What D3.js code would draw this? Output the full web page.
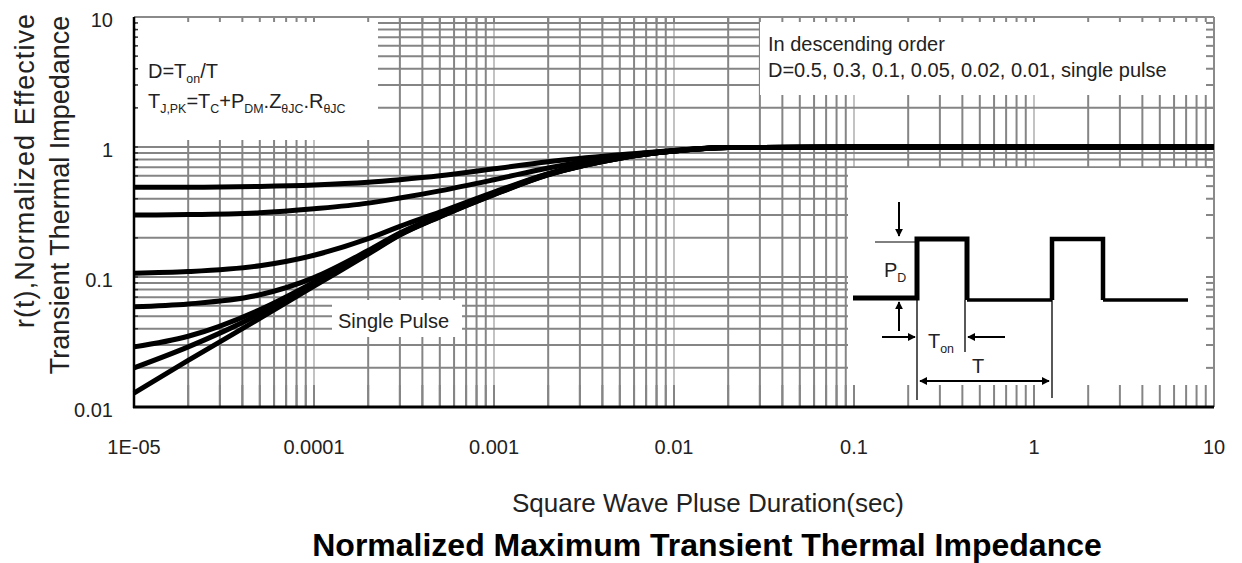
<!DOCTYPE html>
<html>
<head>
<meta charset="utf-8">
<script src="https://cdn.jsdelivr.net/npm/d3@7"></script>
<style>
  body { margin: 0; background: #fff; }
  text { font-family: "Liberation Sans", Arial, sans-serif; fill: #222; }
</style>
</head>
<body>
<script>
// data
const pulseTimes = [1e-5, 2e-5, 5e-5, 1e-4, 2e-4, 3e-4, 5e-4, 1e-3, 2e-3, 5e-3, 1e-2, 2e-2, 1e-1, 1, 10]
const dutyLabels = ["0.5", "0.3", "0.1", "0.05", "0.02", "0.01", "single"]
const r_d05 = [0.49, 0.49, 0.497, 0.51, 0.535, 0.56, 0.60, 0.68, 0.77, 0.87, 0.94, 0.99, 1, 1, 1]
const r_d03 = [0.30, 0.302, 0.312, 0.335, 0.37, 0.405, 0.46, 0.56, 0.69, 0.85, 0.94, 0.99, 1, 1, 1]
const r_d01 = [0.107, 0.11, 0.122, 0.147, 0.197, 0.245, 0.315, 0.45, 0.625, 0.83, 0.93, 0.99, 1, 1, 1]
const r_d005 = [0.059, 0.062, 0.073, 0.099, 0.16, 0.218, 0.298, 0.44, 0.62, 0.825, 0.93, 0.99, 1, 1, 1]
const r_d002 = [0.029, 0.035, 0.056, 0.091, 0.155, 0.214, 0.294, 0.435, 0.615, 0.82, 0.93, 0.99, 1, 1, 1]
const r_d001 = [0.020, 0.029, 0.052, 0.088, 0.152, 0.212, 0.292, 0.432, 0.612, 0.82, 0.93, 0.99, 1, 1, 1]
const r_single = [0.0128, 0.0228, 0.048, 0.085, 0.15, 0.21, 0.29, 0.43, 0.61, 0.82, 0.93, 0.99, 1, 1, 1]
const allSeries = [r_d05, r_d03, r_d01, r_d005, r_d002, r_d001, r_single]

const xTickValues = [1e-5, 1e-4, 1e-3, 1e-2, 1e-1, 1, 10]
const xTickLabels = ["1E-05", "0.0001", "0.001", "0.01", "0.1", "1", "10"]
const yTickValues = [0.01, 0.1, 1, 10]
const yTickLabels = ["0.01", "0.1", "1", "10"]

const width = 1242
const height = 563

const svg = d3.select("body")
    .append("svg")
    .attr("width", width)
    .attr("height", height)

svg.append("rect").attr("width", width).attr("height", height).attr("fill", "#fff")

const x = d3.scaleLog().domain([1e-5, 10]).range([134, 1214])
const y = d3.scaleLog().domain([0.01, 10]).range([407, 17])

const xGrid = x.ticks()
const yGrid = y.ticks()
const isDecade = v => Math.abs(Math.log10(v) - Math.round(Math.log10(v))) < 1e-6

// grid
const grid = svg.append("g")
grid.selectAll(".vg")
    .data(xGrid)
    .join("line")
    .attr("x1", d => x(d)).attr("x2", d => x(d))
    .attr("y1", y(10)).attr("y2", y(0.01))
    .attr("stroke", d => isDecade(d) ? "#9a9a9a" : "#858585")
    .attr("stroke-width", d => isDecade(d) ? 1.2 : 2)

grid.selectAll(".hg")
    .data(yGrid)
    .join("line")
    .attr("y1", d => y(d)).attr("y2", d => y(d))
    .attr("x1", x(1e-5)).attr("x2", x(10))
    .attr("stroke", "#858585")
    .attr("stroke-width", 2)

// white boxes that hide the grid (annotation areas)
const boxes = [
    { x0: 136, y0: 18, x1: 378, y1: 140 },
    { x0: 760, y0: 18, x1: 1213, y1: 95 },
    { x0: 848, y0: 168, x1: 1213, y1: 406 },
    { x0: 332, y0: 300, x1: 462, y1: 337 }
]
svg.append("g")
    .selectAll("rect")
    .data(boxes)
    .join("rect")
    .attr("x", d => d.x0).attr("y", d => d.y0)
    .attr("width", d => d.x1 - d.x0).attr("height", d => d.y1 - d.y0)
    .attr("fill", "#fff")

// edge ticks
const edge = svg.append("g").attr("stroke", "#858585").attr("stroke-width", 2)
edge.selectAll(".tt").data(xGrid).join("line")
    .attr("x1", d => x(d)).attr("x2", d => x(d))
    .attr("y1", y(10)).attr("y2", y(10) + 5)
edge.selectAll(".bt").data(xGrid).join("line")
    .attr("x1", d => x(d)).attr("x2", d => x(d))
    .attr("y1", y(0.01)).attr("y2", y(0.01) - 22)
edge.selectAll(".rt").data(yGrid).join("line")
    .attr("y1", d => y(d)).attr("y2", d => y(d))
    .attr("x1", x(10)).attr("x2", x(10) - 8)
svg.append("g").selectAll("line").data(yGrid).join("line")
    .attr("y1", d => y(d)).attr("y2", d => y(d))
    .attr("x1", x(1e-5)).attr("x2", x(1e-5) + 4)
    .attr("stroke", "#333").attr("stroke-width", 1.5)

// frame
svg.append("line").attr("x1", x(1e-5)).attr("x2", x(10)).attr("y1", y(10)).attr("y2", y(10))
    .attr("stroke", "#8a8a8a").attr("stroke-width", 2)
svg.append("line").attr("x1", x(10)).attr("x2", x(10)).attr("y1", y(10)).attr("y2", y(0.01))
    .attr("stroke", "#8a8a8a").attr("stroke-width", 2)
svg.append("line").attr("x1", x(1e-5)).attr("x2", x(1e-5)).attr("y1", y(10)).attr("y2", y(0.01) + 1)
    .attr("stroke", "#000").attr("stroke-width", 2.5)
svg.append("line").attr("x1", x(1e-5) - 1).attr("x2", x(10)).attr("y1", y(0.01)).attr("y2", y(0.01))
    .attr("stroke", "#000").attr("stroke-width", 3)

// curves
const line = d3.line()
    .x((d, i) => x(pulseTimes[i]))
    .y(d => y(d))
    .curve(d3.curveMonotoneX)

svg.append("g")
    .selectAll("path")
    .data(allSeries)
    .join("path")
    .attr("d", d => line(d))
    .attr("fill", "none")
    .attr("stroke", "#000")
    .attr("stroke-width", 5)
    .attr("stroke-linejoin", "round")

// tick labels
svg.append("g")
    .selectAll("text")
    .data(xTickValues)
    .join("text")
    .attr("x", d => x(d))
    .attr("y", 454)
    .attr("text-anchor", "middle")
    .attr("font-size", 20)
    .text((d, i) => xTickLabels[i])

svg.append("g")
    .selectAll("text")
    .data(yTickValues)
    .join("text")
    .attr("x", 113)
    .attr("y", d => y(d) + 10)
    .attr("text-anchor", "end")
    .attr("font-size", 20)
    .text((d, i) => yTickLabels[i])

// axis titles
svg.append("text")
    .attr("transform", "translate(34,171) rotate(-90)")
    .attr("text-anchor", "middle")
    .attr("font-size", 27)
    .attr("textLength", 314)
    .text("r(t),Normalized Effective")
svg.append("text")
    .attr("transform", "translate(69,195) rotate(-90)")
    .attr("text-anchor", "middle")
    .attr("font-size", 27)
    .text("Transient Thermal Impedance")

svg.append("text")
    .attr("x", 708).attr("y", 512)
    .attr("text-anchor", "middle")
    .attr("font-size", 26)
    .text("Square Wave Pluse Duration(sec)")

svg.append("text")
    .attr("x", 707).attr("y", 556)
    .attr("text-anchor", "middle")
    .attr("font-size", 32)
    .attr("font-weight", "bold")
    .style("fill", "#000")
    .text("Normalized Maximum Transient Thermal Impedance")

// text with subscripts, parts = [text, isSub]
function richText(xp, yp, parts, size) {
    const t = svg.append("text").attr("x", xp).attr("y", yp).attr("font-size", size)
    let down = false
    parts.forEach(p => {
        const s = t.append("tspan").text(p[0])
        if (p[1] && !down) { s.attr("font-size", size * 0.62).attr("dy", 5); down = true }
        else if (p[1]) { s.attr("font-size", size * 0.62) }
        else if (down) { s.attr("dy", -5); down = false }
    })
    return t
}

richText(148, 78, [["D=T"], ["on", 1], ["/T"]], 20)
richText(148, 108, [["T"], ["J,PK", 1], ["=T"], ["C", 1], ["+P"], ["DM", 1], ["."], ["Z"], ["θJC", 1], ["."], ["R"], ["θJC", 1]], 20)

svg.append("text").attr("x", 768).attr("y", 51).attr("font-size", 20).text("In descending order")
svg.append("text").attr("x", 768).attr("y", 77).attr("font-size", 20)
    .text("D=0.5, 0.3, 0.1, 0.05, 0.02, 0.01, single pulse")

svg.append("text").attr("x", 338).attr("y", 328).attr("font-size", 20).text("Single Pulse")

// inset: pulse train diagram
const defs = svg.append("defs")
defs.append("marker")
    .attr("id", "arr")
    .attr("viewBox", "0 0 10 10")
    .attr("refX", 9).attr("refY", 5)
    .attr("markerWidth", 4).attr("markerHeight", 4)
    .attr("orient", "auto-start-reverse")
    .attr("markerUnits", "strokeWidth")
    .append("path").attr("d", "M0,0 L10,5 L0,10 z").attr("fill", "#000")

const inset = svg.append("g").attr("fill", "none").attr("stroke", "#000")
inset.append("path").attr("d", "M853,298 H917 V239 H967 V300").attr("stroke-width", 5)
inset.append("path").attr("d", "M967,300 H1052").attr("stroke-width", 3.5)
inset.append("path").attr("d", "M1052,300 V239 H1103 V300").attr("stroke-width", 4.5)
inset.append("path").attr("d", "M1103,300 H1188").attr("stroke-width", 3.5)
inset.append("path").attr("d", "M875,242 H917").attr("stroke-width", 1)
inset.append("path").attr("d", "M917,300 V400 M965,300 V352 M1052,300 V398").attr("stroke-width", 1.3)

const arrows = [
    { x1: 899, y1: 202, x2: 899, y2: 236, both: false },
    { x1: 899, y1: 331, x2: 899, y2: 302, both: false },
    { x1: 882, y1: 337, x2: 915, y2: 337, both: false },
    { x1: 1005, y1: 337, x2: 968, y2: 337, both: false },
    { x1: 920, y1: 381, x2: 1049, y2: 381, both: true }
]
inset.selectAll(".arrow")
    .data(arrows)
    .join("line")
    .attr("x1", d => d.x1).attr("y1", d => d.y1)
    .attr("x2", d => d.x2).attr("y2", d => d.y2)
    .attr("stroke-width", 2)
    .attr("marker-end", "url(#arr)")
    .attr("marker-start", d => d.both ? "url(#arr)" : null)

richText(884, 277, [["P"], ["D", 1]], 20)
richText(928, 348, [["T"], ["on", 1]], 20)
svg.append("text").attr("x", 972).attr("y", 373).attr("font-size", 20).text("T")
</script>
</body>
